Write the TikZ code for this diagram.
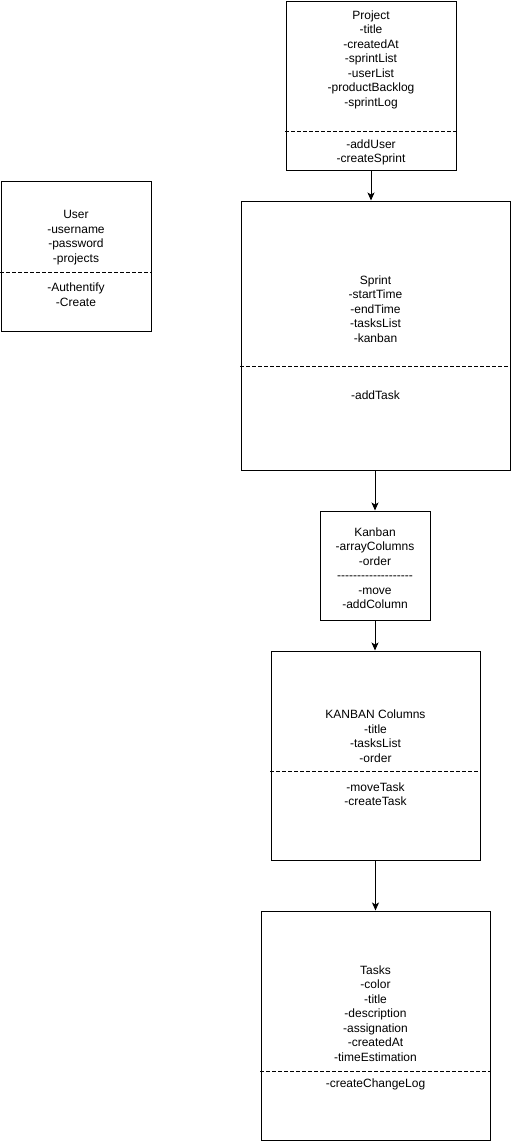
\documentclass[tikz,border=0pt]{standalone}
\usepackage{fontspec}
\setmainfont{Liberation Sans}
\usepackage{tikz}
\usetikzlibrary{calc,arrows,arrows.meta,positioning}

\tikzset{classbox/.style={draw,line width=1pt,inner sep=0pt,fill=white},
         members/.style={align=center,inner sep=0pt,yshift=-1.5pt,font=\fontsize{12}{14.5}\selectfont},
         divider/.style={line width=0.8pt,dash pattern=on 3pt off 3pt}}

\begin{document}
\begin{tikzpicture}[x=1pt,y=-1pt,>={Stealth[length=8pt,width=7pt,inset=2pt]},line cap=rect,line join=miter]
            \useasboundingbox[fill=white] (0,0) rectangle (511,1141);
            % boxes
            \node[classbox,minimum width=170pt,minimum height=169pt] (project) at (371,85.5) {};
            \node[classbox,minimum width=150pt,minimum height=150pt] (user) at (76,256) {};
            \node[classbox,minimum width=269pt,minimum height=269pt] (sprint) at (375.5,335.5) {};
            \node[classbox,minimum width=110pt,minimum height=109pt] (kanban) at (375,565.5) {};
            \node[classbox,minimum width=209pt,minimum height=209pt] (columns) at (375.5,755.5) {};
            \node[classbox,minimum width=229pt,minimum height=229pt] (tasks) at (375.5,1025.5) {};

            % dividers
            \draw [divider] (project.west |- 0,131) -- (project.east |- 0,131);
            \draw [divider] (user.west |- 0,272) -- (user.east |- 0,272);
            \draw [divider] (sprint.west |- 0,366) -- (sprint.east |- 0,366);
            \draw [divider] (columns.west |- 0,771) -- (columns.east |- 0,771);
            \draw [divider] (tasks.west |- 0,1071) -- (tasks.east |- 0,1071);

            % texts
            \node[members] (project attr) at (371,58) {Project\\-title\\-createdAt\\-sprintList\\-userList\\-productBacklog\\-sprintLog};
            \node[members] (project ops) at (371,151) {-addUser\\-createSprint};
            \node[members] (user attr) at (76,236) {User\\-username\\-password\\-projects};
            \node[members] (user ops) at (76,293) {-Authentify\\-Create};
            \node[members] (sprint attr) at (375.5,307.5) {Sprint\\-startTime\\-endTime\\-tasksList\\-kanban};
            \node[members] (sprint ops) at (375.5,394) {-addTask};
            \node[members] (kanban attr) at (375,566.5) {Kanban\\-arrayColumns\\-order\\-{}-{}-{}-{}-{}-{}-{}-{}-{}-{}-{}-{}-{}-{}-{}-{}-{}-{}-\\-move\\-addColumn};
            \node[members] (columns attr) at (375.5,734.5) {KANBAN Columns\\-title\\-tasksList\\-order};
            \node[members] (columns ops) at (375.5,792.5) {-moveTask\\-createTask};
            \node[members] (tasks attr) at (375.5,1012) {Tasks\\-color\\-title\\-description\\-assignation\\-createdAt\\-timeEstimation};
            \node[members] (tasks ops) at (375.5,1083) {-createChangeLog};

            % links
            \draw [->,line width=1pt] (project.south) -- (project.south |- sprint.north);
            \draw [->,line width=1pt] (kanban.north |- sprint.south) -- (kanban.north);
            \draw [->,line width=1pt] (kanban.south) -- (kanban.south |- columns.north);
            \draw [->,line width=1pt] (columns.south) -- (tasks.north);
        \end{tikzpicture}
\end{document}
